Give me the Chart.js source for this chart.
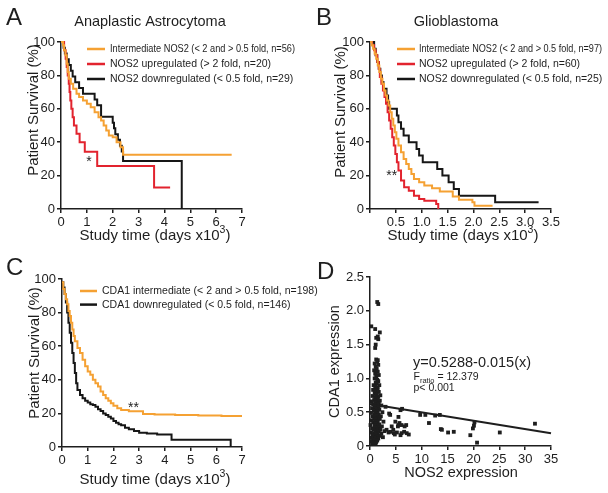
<!DOCTYPE html>
<html>
<head>
<meta charset="utf-8">
<script src="https://cdn.jsdelivr.net/npm/chart.js@4.4.0/dist/chart.umd.min.js"></script>
<style>
  html, body { margin: 0; padding: 0; background: #fff; }
  #fig { position: relative; width: 608px; height: 493px; overflow: hidden; }
  canvas { position: absolute; }
</style>
</head>
<body>
<div id="fig">
  <canvas id="chartA" width="300" height="250" style="left:0;top:0"></canvas>
  <canvas id="chartB" width="308" height="250" style="left:300px;top:0"></canvas>
  <canvas id="chartC" width="340" height="243" style="left:0;top:250px"></canvas>
  <canvas id="chartD" width="308" height="243" style="left:300px;top:250px"></canvas>
</div>
<script>
/* ================= COLOURS / FONT ================= */
const INK = '#1e1e1e';
const ORANGE = '#f5a133';
const RED = '#e2232e';
const BLACK = '#161616';
const FONT = '"Liberation Sans", Arial, Helvetica, sans-serif';

/* ================= PANEL A : Anaplastic Astrocytoma ================= */
const aLabels = [
    'Intermediate NOS2 (< 2 and > 0.5 fold, n=56)',
    'NOS2 upregulated (> 2 fold, n=20)',
    'NOS2 downregulated (< 0.5 fold, n=29)'
];
const aInterT = [0, 0.08, 0.12, 0.17, 0.22, 0.26, 0.3, 0.38, 0.47, 0.6, 0.7, 0.85, 1.0, 1.15, 1.3, 1.45, 1.55, 1.65, 1.75, 1.85, 2.0, 2.15, 2.3, 2.4, 6.6];
const aInterS = [100, 98, 95, 92, 87, 82, 78, 75, 72, 69, 67, 65, 63, 61, 58, 55, 53, 50, 47, 44, 43, 40, 37, 32.5, 32.5];
const aUpT = [0, 0.12, 0.18, 0.22, 0.26, 0.3, 0.33, 0.36, 0.4, 0.45, 0.5, 0.6, 0.72, 0.92, 1.4, 3.6, 4.22];
const aUpS = [100, 95, 90, 85, 80, 75, 70, 65, 60, 55, 50, 45, 40, 34.3, 25.7, 12.9, 12.9];
const aDownT = [0, 0.1, 0.15, 0.22, 0.3, 0.38, 0.45, 0.55, 0.7, 0.85, 1.3, 1.4, 1.55, 2.0, 2.05, 2.1, 2.2, 2.28, 2.35, 2.4, 4.67];
const aDownS = [100, 96.6, 93.1, 89.7, 86.2, 82.8, 79.3, 75.9, 72.4, 69, 65.5, 62.1, 55.2, 51.7, 48.3, 44.8, 41.4, 37.9, 34.5, 28.7, 0];
const aTicksX = [0, 1, 2, 3, 4, 5, 6, 7];
const aTickLabelsX = ['0', '1', '2', '3', '4', '5', '6', '7'];

/* ================= PANEL B : Glioblastoma ================= */
const bLabels = [
    'Intermediate NOS2 (< 2 and > 0.5 fold, n=97)',
    'NOS2 upregulated (> 2 fold, n=60)',
    'NOS2 downregulated (< 0.5 fold, n=25)'
];
const bInterT = [0, 0.03, 0.06, 0.09, 0.12, 0.15, 0.18, 0.21, 0.24, 0.27, 0.3, 0.33, 0.36, 0.39, 0.42, 0.45, 0.48, 0.51, 0.55, 0.6, 0.65, 0.7, 0.75, 0.8, 0.85, 0.95, 1.05, 1.2, 1.35, 1.6, 1.72, 1.98, 2.02, 2.37];
const bInterS = [100, 98, 96, 93, 90, 86, 82, 78, 75, 71, 68, 65, 62, 58, 54, 50, 46, 42, 38, 34, 30, 27, 24, 21, 18, 16, 14, 12.5, 10.5, 7.5, 5.5, 4, 2, 2];
const bUpT = [0, 0.04, 0.08, 0.11, 0.14, 0.17, 0.19, 0.22, 0.25, 0.28, 0.31, 0.34, 0.37, 0.4, 0.43, 0.46, 0.49, 0.52, 0.55, 0.6, 0.66, 0.75, 0.85, 0.95, 1.05, 1.28, 1.32];
const bUpS = [100, 98, 95, 92, 88, 84, 79, 75, 71, 67, 63, 58, 53, 48, 43, 38, 33, 28, 23, 17, 13, 11, 8, 6, 5, 3, 0];
const bDownT = [0, 0.08, 0.11, 0.14, 0.17, 0.2, 0.23, 0.26, 0.32, 0.35, 0.37, 0.52, 0.55, 0.6, 0.65, 0.75, 0.9, 0.95, 1.02, 1.3, 1.4, 1.52, 1.62, 1.72, 2.42, 3.26];
const bDownS = [100, 96, 92, 88, 84, 80, 76, 72, 68, 64, 60, 56, 52, 48, 44, 40, 36, 32, 28, 24, 20, 16, 12, 8, 4, 4];
const bTicksX = [0, 0.5, 1, 1.5, 2, 2.5, 3, 3.5];
const bTickLabelsX = ['', '0.5', '1.0', '1.5', '2.0', '2.5', '3.0', '3.5'];

/* ================= PANEL C : CDA1 ================= */
const cLabels = [
    'CDA1 intermediate (< 2 and > 0.5 fold, n=198)',
    'CDA1 downregulated (< 0.5 fold, n=146)'
];
const cInterT = [0, 0.05, 0.1, 0.15, 0.2, 0.25, 0.3, 0.35, 0.4, 0.45, 0.5, 0.6, 0.7, 0.8, 0.9, 1.0, 1.1, 1.2, 1.3, 1.4, 1.5, 1.6, 1.7, 1.8, 1.9, 2.0, 2.15, 2.3, 2.6, 3.15, 3.6, 4.4, 5.3, 6.2, 7.0];
const cInterS = [98, 94, 91, 88, 85, 81, 78, 74, 70, 66, 63, 59, 56, 52, 48, 45, 43, 40, 38, 36, 33, 31, 29, 27.5, 26, 24.5, 23, 22, 21.3, 19.6, 19.3, 19, 18.8, 18.5, 18.5];
const cDownT = [0, 0.05, 0.1, 0.15, 0.2, 0.25, 0.3, 0.35, 0.4, 0.45, 0.5, 0.55, 0.6, 0.7, 0.8, 0.9, 1.0, 1.1, 1.2, 1.3, 1.4, 1.5, 1.6, 1.7, 1.8, 1.9, 2.0, 2.1, 2.2, 2.3, 2.45, 2.6, 2.8, 3.0, 3.3, 3.7, 4.26, 6.56];
const cDownS = [98, 95, 91, 86, 80, 74, 68, 62, 56, 50, 44, 38, 34, 31, 29, 27.5, 26.5, 25.5, 25, 24, 22.5, 21.5, 20, 19, 18, 17, 15.5, 14.5, 13.5, 13, 11.5, 10.5, 9.5, 8.5, 8, 7.5, 4.3, 0];

const survTicks = [0, 20, 40, 60, 80, 100];
const survTickLabels = ['0', '20', '40', '60', '80', '100'];

/* ================= PANEL D : NOS2 vs CDA1 ================= */
const dNos2 = [
    1.2, 1.4, 0.9, 1.6, 1.1, 1.3, 0.8, 1.5, 1.0, 1.7, 1.2, 0.9, 1.4, 1.6, 1.1, 1.3, 0.7, 1.8, 1.0, 1.5,
    1.2, 0.6, 1.4, 1.7, 0.9, 1.1, 1.3, 2.0, 0.5, 1.6, 1.0, 1.2, 1.5, 0.8, 1.9, 0.3, 1.3, 1.1, 1.7, 0.6,
    1.4, 0.9, 2.2, 1.2, 1.6, 0.4, 1.0, 1.8, 1.3, 0.7, 1.5, 2.4, 1.1, 0.2, 1.4, 0.9, 1.7, 1.2, 0.5, 2.1,
    1.0, 1.6, 1.3, 0.8, 1.9, 1.1, 0.3, 1.5, 1.2, 2.6, 0.6, 1.4, 1.0, 1.8, 0.1, 1.3, 0.9, 2.3, 1.6, 1.1,
    0.4, 1.5, 0.7, 2.0, 1.2, 2.8, 1.0, 1.7, 0.2, 1.4, 0.8, 2.2, 1.1, 0.5, 1.9, 1.3, 0.9, 2.5, 0.3, 1.6,
    1.0, 0.6, 1.4, 0.2, 1.2, 0.8, 1.1, 0.4,
    1.4, 1.6, 0.25, 1.0, 1.9, 1.2, 1.5, 1.6, 1.1, 1.0, 1.5,
    3.0, 3.7, 3.9, 5.5, 5.9, 6.2, 3.2, 3.6, 3.9, 4.2, 4.5, 4.6, 4.8, 4.9, 5.2, 5.4, 5.5, 5.7, 5.9, 6.1,
    6.1, 6.6, 6.7, 7.0, 7.1, 7.5,
    9.7, 10.7, 11.4, 12.6, 13.5, 13.7, 13.9, 15.1, 16.2, 19.4, 19.9, 20.1, 20.2, 20.7, 25.1, 31.9
];
const dCda1 = [
    1.28, 1.25, 1.22, 1.2, 1.17, 1.14, 1.12, 1.1, 1.07, 1.05, 1.03, 1.0, 0.98, 0.96, 0.94, 0.92, 0.9, 0.9, 0.88, 0.86,
    0.84, 0.83, 0.82, 0.8, 0.79, 0.77, 0.76, 0.75, 0.74, 0.73, 0.72, 0.7, 0.69, 0.68, 0.67, 0.66, 0.65, 0.64, 0.63, 0.62,
    0.61, 0.6, 0.6, 0.58, 0.57, 0.56, 0.55, 0.54, 0.53, 0.52, 0.51, 0.5, 0.5, 0.49, 0.48, 0.47, 0.46, 0.45, 0.44, 0.44,
    0.43, 0.42, 0.41, 0.4, 0.4, 0.39, 0.38, 0.37, 0.36, 0.36, 0.35, 0.34, 0.33, 0.32, 0.31, 0.31, 0.3, 0.29, 0.28, 0.27,
    0.26, 0.25, 0.24, 0.24, 0.23, 0.22, 0.22, 0.21, 0.2, 0.19, 0.18, 0.18, 0.17, 0.16, 0.15, 0.14, 0.13, 0.13, 0.12, 0.11,
    0.1, 0.09, 0.08, 0.07, 0.06, 0.05, 0.04, 0.04,
    2.13, 2.1, 1.77, 1.73, 1.68, 1.6, 1.62, 1.58, 1.5, 1.45, 1.27,
    0.58, 0.48, 0.46, 0.43, 0.53, 0.55, 0.24, 0.2, 0.21, 0.29, 0.24, 0.19, 0.17, 0.36, 0.2, 0.29, 0.31, 0.34, 0.16, 0.31,
    0.19, 0.21, 0.29, 0.31, 0.19, 0.17,
    0.46, 0.46, 0.34, 0.45, 0.46, 0.25, 0.24, 0.2, 0.21, 0.16, 0.26, 0.3, 0.35, 0.05, 0.2, 0.33
];
const dFitX = [0, 35];
const dFitY = [0.62, 0.19];
const dTicksX = [0, 5, 10, 15, 20, 25, 30, 35];
const dTickLabelsX = ['0', '5', '10', '15', '20', '25', '30', '35'];
const dTicksY = [0, 0.5, 1, 1.5, 2, 2.5];
const dTickLabelsY = ['0', '0.5', '1.0', '1.5', '2.0', '2.5'];

/* ================= HELPERS ================= */
function toPoints(xs, ys) {
    return xs.map((x, i) => ({ x, y: ys[i] }));
}

function kmDataset(label, t, s, color) {
    return {
        label,
        data: toPoints(t, s),
        borderColor: color,
        backgroundColor: color,
        borderWidth: 2,
        stepped: 'before',
        pointRadius: 0,
        fill: false,
        clip: false
    };
}

function linAxis(min, max, ticks, labels) {
    return {
        type: 'linear',
        min,
        max,
        afterBuildTicks: sc => { sc.ticks = ticks.map(v => ({ value: v })); },
        ticks: {
            autoSkip: false,
            maxRotation: 0,
            padding: 2,
            color: INK,
            font: { size: 13, family: FONT },
            callback: (v, i) => labels[i]
        },
        grid: { drawOnChartArea: false, drawTicks: true, tickLength: 4, color: INK, lineWidth: 1.5 },
        border: { color: INK, width: 1.5 }
    };
}

function drawRich(ctx, item) {
    const parts = item.parts || [{ t: item.text }];
    ctx.save();
    ctx.translate(item.x, item.y);
    if (item.rotate) ctx.rotate(-Math.PI / 2);
    ctx.fillStyle = INK;
    ctx.textBaseline = 'alphabetic';
    ctx.textAlign = 'left';
    const widths = parts.map(p => {
        ctx.font = `${p.size || item.size}px ${FONT}`;
        return ctx.measureText(p.t).width;
    });
    const total = widths.reduce((a, b) => a + b, 0);
    let x = item.align === 'center' ? -total / 2 : 0;
    parts.forEach((p, i) => {
        ctx.font = `${p.size || item.size}px ${FONT}`;
        ctx.fillText(p.t, x, p.dy || 0);
        x += widths[i];
    });
    ctx.restore();
}

function drawLegend(chart, lg) {
    const ctx = chart.ctx;
    chart.data.datasets.forEach((ds, i) => {
        const y = lg.y + i * lg.dy;
        ctx.save();
        ctx.strokeStyle = ds.borderColor;
        ctx.lineWidth = 2.5;
        ctx.beginPath();
        ctx.moveTo(lg.x, y);
        ctx.lineTo(lg.x + lg.len, y);
        ctx.stroke();
        ctx.fillStyle = INK;
        ctx.font = `${lg.size}px ${FONT}`;
        ctx.textBaseline = 'middle';
        ctx.textAlign = 'left';
        if (lg.maxWidth && lg.maxWidth[i]) {
            ctx.fillText(ds.label, lg.x + lg.len + lg.gap, y + 0.5, lg.maxWidth[i]);
        } else {
            ctx.fillText(ds.label, lg.x + lg.len + lg.gap, y + 0.5);
        }
        ctx.restore();
    });
}

const decorPlugin = {
    id: 'decor',
    afterDraw(chart, args, opts) {
        const ctx = chart.ctx;
        (opts.texts || []).forEach(t => drawRich(ctx, t));
        if (opts.legend) drawLegend(chart, opts.legend);
        (opts.stars || []).forEach(s => {
            const px = chart.scales.x.getPixelForValue(s.x);
            const py = chart.scales.y.getPixelForValue(s.y);
            ctx.save();
            ctx.fillStyle = INK;
            ctx.font = `14px ${FONT}`;
            ctx.textAlign = 'center';
            ctx.textBaseline = 'alphabetic';
            ctx.fillText(s.text, px, py + 8);
            ctx.restore();
        });
    }
};

function makePanel(id, box, type, datasets, xAxis, yAxis, decor) {
    const cv = document.getElementById(id);
    const W = cv.width, H = cv.height;
    xAxis.afterFit = s => { s.height = H - box.bottom; };
    yAxis.afterFit = s => { s.width = box.left; };
    return new Chart(cv, {
        type,
        data: { datasets },
        options: {
            responsive: false,
            animation: false,
            events: [],
            layout: { padding: { left: 0, top: box.top, right: W - box.right, bottom: 0 } },
            scales: { x: xAxis, y: yAxis },
            plugins: { legend: { display: false }, tooltip: { enabled: false }, decor }
        },
        plugins: [decorPlugin]
    });
}

function studyTimeTitle(x, y) {
    return {
        x, y, size: 15, align: 'center',
        parts: [{ t: 'Study time (days x10' }, { t: '3', size: 10.5, dy: -7 }, { t: ')' }]
    };
}

/* ================= RENDER ================= */
makePanel('chartA', { left: 61, right: 242, top: 42, bottom: 209 }, 'line',
    [
        kmDataset(aLabels[0], aInterT, aInterS, ORANGE),
        kmDataset(aLabels[1], aUpT, aUpS, RED),
        kmDataset(aLabels[2], aDownT, aDownS, BLACK)
    ],
    linAxis(0, 7, aTicksX, aTickLabelsX),
    linAxis(0, 100, survTicks, survTickLabels),
    {
        texts: [
            { text: 'A', x: 6, y: 25, size: 24 },
            { text: 'Anaplastic Astrocytoma', x: 150, y: 26, size: 14.5, align: 'center' },
            { text: 'Patient Survival (%)', x: 38, y: 110, size: 15, align: 'center', rotate: true },
            studyTimeTitle(155, 240)
        ],
        legend: { x: 87, len: 18, gap: 5, y: 49, dy: 15, size: 10.5, maxWidth: [185] },
        stars: [{ text: '*', x: 1.08, y: 30.5 }]
    });

makePanel('chartB', { left: 70, right: 251, top: 42, bottom: 209 }, 'line',
    [
        kmDataset(bLabels[0], bInterT, bInterS, ORANGE),
        kmDataset(bLabels[1], bUpT, bUpS, RED),
        kmDataset(bLabels[2], bDownT, bDownS, BLACK)
    ],
    linAxis(0, 3.5, bTicksX, bTickLabelsX),
    linAxis(0, 100, survTicks, survTickLabels),
    {
        texts: [
            { text: 'B', x: 16, y: 25, size: 24 },
            { text: 'Glioblastoma', x: 156, y: 26, size: 14.5, align: 'center' },
            { text: 'Patient Survival (%)', x: 44.5, y: 112, size: 15, align: 'center', rotate: true },
            studyTimeTitle(163, 240)
        ],
        legend: { x: 97, len: 18, gap: 4, y: 49, dy: 15, size: 10.5, maxWidth: [183] },
        stars: [{ text: '**', x: 0.42, y: 22 }]
    });

makePanel('chartC', { left: 62, right: 242, top: 29, bottom: 197 }, 'line',
    [
        kmDataset(cLabels[0], cInterT, cInterS, ORANGE),
        kmDataset(cLabels[1], cDownT, cDownS, BLACK)
    ],
    linAxis(0, 7, aTicksX, aTickLabelsX),
    linAxis(0, 100, survTicks, survTickLabels),
    {
        texts: [
            { text: 'C', x: 6, y: 25, size: 24 },
            { text: 'Patient Survival (%)', x: 39, y: 103, size: 15, align: 'center', rotate: true },
            studyTimeTitle(155, 234)
        ],
        legend: { x: 80, len: 17, gap: 5, y: 41, dy: 13.6, size: 10.5 },
        stars: [{ text: '**', x: 2.78, y: 25.5 }]
    });

makePanel('chartD', { left: 70, right: 251, top: 27, bottom: 196 }, 'scatter',
    [
        {
            label: 'samples',
            data: toPoints(dNos2, dCda1),
            pointStyle: 'rect',
            pointRadius: 2.7,
            backgroundColor: INK,
            borderWidth: 0,
            clip: false
        },
        {
            type: 'line',
            label: 'fit',
            data: toPoints(dFitX, dFitY),
            borderColor: INK,
            borderWidth: 2,
            pointRadius: 0,
            fill: false,
            clip: false
        }
    ],
    linAxis(0, 35, dTicksX, dTickLabelsX),
    linAxis(0, 2.5, dTicksY, dTickLabelsY),
    {
        texts: [
            { text: 'D', x: 17, y: 29, size: 24 },
            { text: 'y=0.5288-0.015(x)', x: 113, y: 117, size: 14.5 },
            { x: 113.5, y: 130, size: 10.5, parts: [{ t: 'F' }, { t: 'ratio', size: 7.5, dy: 2.5 }, { t: ' = 12.379' }] },
            { text: 'p< 0.001', x: 113.5, y: 141, size: 10.5 },
            { text: 'CDA1 expression', x: 39, y: 111.5, size: 14.5, align: 'center', rotate: true },
            { text: 'NOS2 expression', x: 161, y: 227, size: 14.5, align: 'center' }
        ]
    });
</script>
</body>
</html>
